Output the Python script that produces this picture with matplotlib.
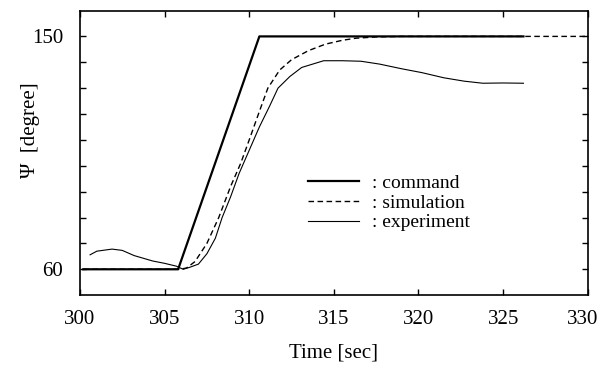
import matplotlib
matplotlib.use("Agg")
import matplotlib.pyplot as plt
from matplotlib.ticker import FixedLocator
from matplotlib.transforms import ScaledTranslation

plt.rcParams['font.family'] = ['Liberation Serif', 'DejaVu Serif']

cmd_t = [300.2, 305.8, 310.6, 326.2]
cmd_v = [60, 60, 150, 150]

sim_t = [300.2, 305.9, 306.3, 306.8, 307.5, 308.2, 308.9, 309.5, 310.0, 310.6,
         311.1, 311.8, 312.5, 313.5, 314.5, 315.5, 316.3, 317.5, 319.0, 330.0]
sim_v = [60, 60, 60.5, 63, 70, 80, 92, 101, 110, 121,
         130, 137, 141, 144.5, 147, 148.5, 149.3, 149.8, 150, 150]

exp_t = [300.6, 301.0, 301.9, 302.5, 303.2, 304.3, 305.0, 305.7, 306.1, 306.5,
         307.0, 307.5, 308.0, 308.4, 308.9, 309.4, 310.0, 310.6, 311.2, 311.7,
         312.4, 313.1, 314.4, 315.5, 316.6, 317.7, 319.0, 320.2, 321.5, 322.7,
         323.8, 325.0, 326.2]
exp_v = [65.6, 67.0, 67.8, 67.3, 65.3, 63.2, 62.3, 61.2, 60.0, 60.8,
         62.0, 66.0, 72.0, 80.0, 88.0, 97.0, 106.0, 115.0, 123.0, 130.0,
         134.5, 138.0, 140.6, 140.6, 140.4, 139.3, 137.5, 136.0, 134.0, 132.7,
         131.9, 132.0, 131.9]

xticks = [300, 305, 310, 315, 320, 325, 330]
yticks_labeled = [60, 150]

fig = plt.figure(figsize=(6.01, 3.76), dpi=100)
ax = fig.add_axes([0.133, 0.215, 0.845, 0.757])

ax.plot(cmd_t, cmd_v, color='black', lw=1.6, label=': command')
ax.plot(sim_t, sim_v, color='black', lw=1.0, ls=(0, (4, 2.5)), label=': simulation')
ax.plot(exp_t, exp_v, color='black', lw=0.8, label=': experiment')

ax.set_xlim(300, 330)
ax.set_ylim(50, 160)
ax.set_xticks(xticks)
ax.set_xticklabels([str(t) for t in xticks])
ax.set_yticks(yticks_labeled)
ax.set_yticklabels([str(t) for t in yticks_labeled])
ax.yaxis.set_minor_locator(FixedLocator(list(range(70, 150, 10))))
ax.tick_params(which='both', direction='in', top=True, right=True, labelsize=15, length=4, width=1)
ax.tick_params(axis='x', pad=11)
ax.tick_params(axis='y', pad=12)
for s in ax.spines.values():
    s.set_linewidth(1.2)

# nudge last x tick label slightly left so it fits like the reference
lab = ax.get_xticklabels()[-1]
lab.set_transform(lab.get_transform() + ScaledTranslation(-5 / 100, 0, fig.dpi_scale_trans))

ax.set_xlabel('Time [sec]', fontsize=15, labelpad=10)
ax.set_ylabel('Ψ  [degree]', fontsize=15)
ax.yaxis.set_label_coords(-0.078, 0.58)

ax.legend(loc='upper left', bbox_to_anchor=(0.415, 0.485), frameon=False, fontsize=14,
          handlelength=2.6, handletextpad=0.7, labelspacing=0.1)

fig.savefig('out.png', dpi=100)
